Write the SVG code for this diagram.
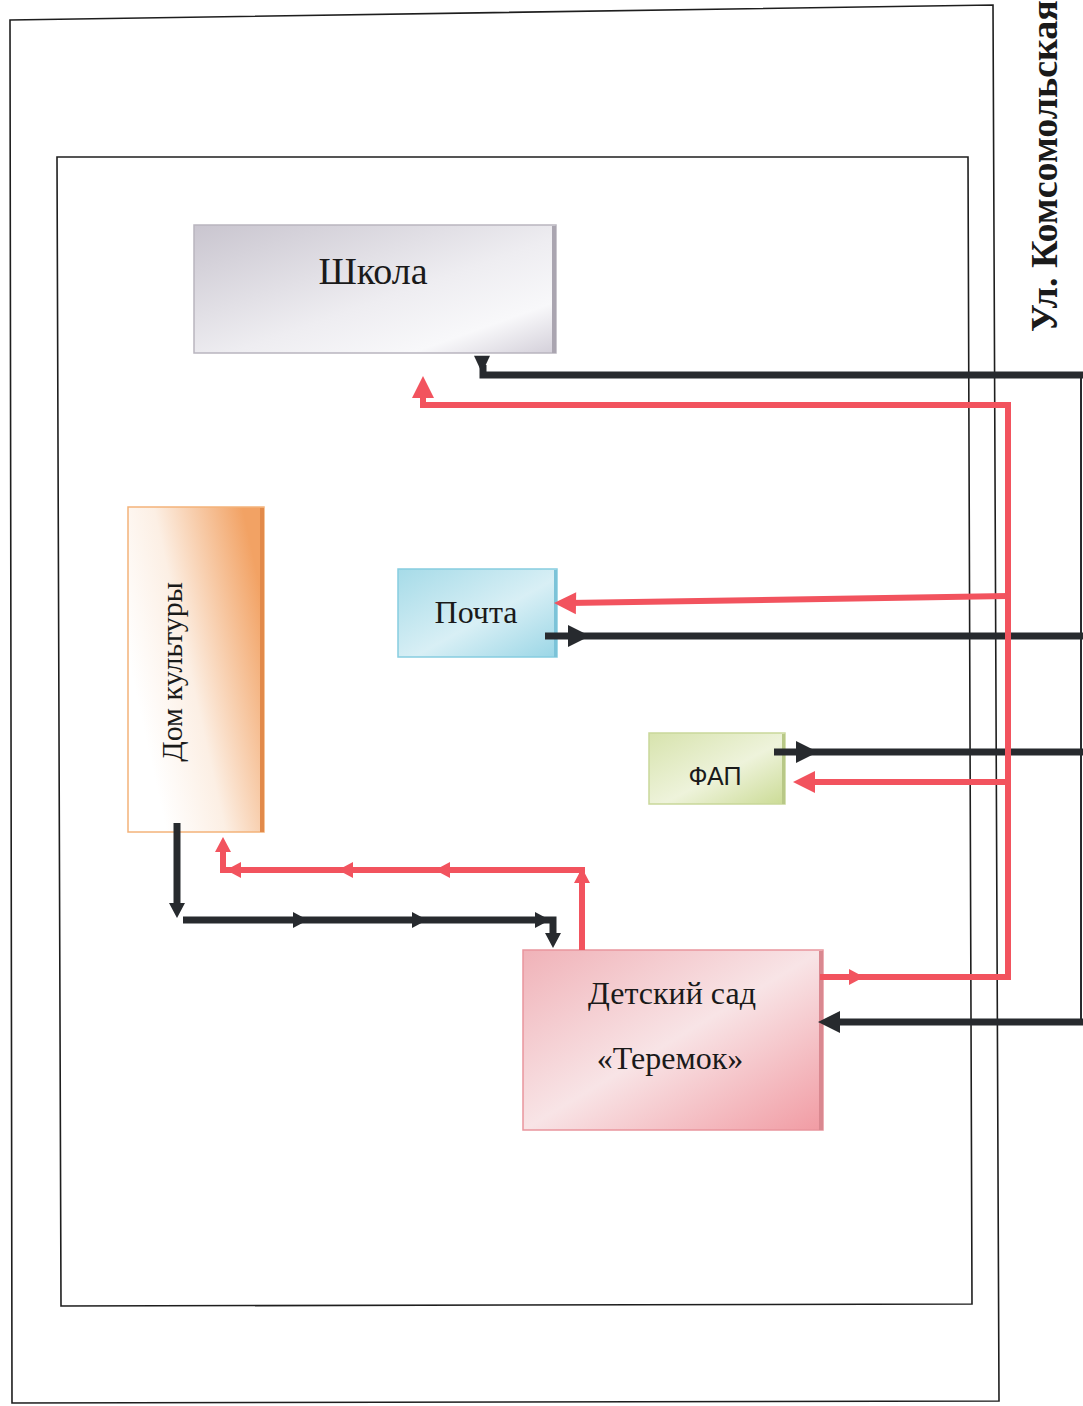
<svg xmlns="http://www.w3.org/2000/svg" xmlns:xlink="http://www.w3.org/1999/xlink" width="1083" height="1406" viewBox="0 0 1083 1406">
<style>
.frame{fill:none;stroke:#1e1e1e;stroke-width:1.6}
.blk{fill:none;stroke:#272a2e;stroke-width:7;stroke-linejoin:miter}
.red{fill:none;stroke:#f2535e;stroke-width:6;stroke-linejoin:miter}
.ahb{fill:#272a2e}
.ahr{fill:#f2535e}
.lbl{font-family:"Liberation Serif","Times New Roman",serif;fill:#1a1a1a}
.lbls{font-family:"Liberation Sans",Arial,sans-serif;fill:#1a1a1a}
</style>
<defs>
<path id="aBig" d="M0,0 L-22,-11 L-22,11 Z"/>
<path id="aSm" d="M0,0 L-15,-8 L-15,8 Z"/>
<linearGradient id="gSchool" x1="0" y1="0" x2="1" y2="1">
<stop offset="0" stop-color="#c9c5cf"/><stop offset="0.55" stop-color="#eeedf1"/><stop offset="0.8" stop-color="#f8f8fa"/><stop offset="1" stop-color="#d3cfd9"/>
</linearGradient>
<linearGradient id="gDom" x1="0.15" y1="0.75" x2="1" y2="0.3">
<stop offset="0" stop-color="#ffffff"/><stop offset="0.4" stop-color="#fcefe4"/><stop offset="1" stop-color="#f2a264"/>
</linearGradient>
<linearGradient id="gPost" x1="0" y1="0" x2="1" y2="1">
<stop offset="0" stop-color="#a6dbe8"/><stop offset="0.55" stop-color="#d8eff5"/><stop offset="1" stop-color="#9ad6e6"/>
</linearGradient>
<linearGradient id="gFap" x1="0" y1="0" x2="1" y2="1">
<stop offset="0" stop-color="#d7e3ad"/><stop offset="0.55" stop-color="#eef3db"/><stop offset="1" stop-color="#cbdb95"/>
</linearGradient>
<linearGradient id="gSad" x1="0" y1="0" x2="1" y2="1">
<stop offset="0" stop-color="#f0b2b8"/><stop offset="0.5" stop-color="#f8e4e6"/><stop offset="1" stop-color="#f19ba3"/>
</linearGradient>
</defs>

<g id="frames">
<polygon class="frame" points="10,20 993,5 999,1401 12,1403"/>
<polygon class="frame" points="57,157 968,157 972,1304 61,1306"/>
</g>

<g id="street">
<text class="lbl" font-weight="bold" font-size="38" transform="translate(1057,332) rotate(-90)">Ул. Комсомольская</text>
</g>

<g id="school">
<rect x="194" y="225" width="362" height="128" fill="url(#gSchool)" stroke="#b9b5bf" stroke-width="1.5"/>
<rect x="552" y="226" width="4" height="127" fill="#aaa5b0"/>
<text class="lbl" font-size="38" x="373" y="284" text-anchor="middle">Школа</text>
</g>

<g id="dom-kultury">
<rect x="128" y="507" width="136" height="325" fill="url(#gDom)" stroke="#f3b37a" stroke-width="1.5"/>
<rect x="260" y="508" width="4" height="324" fill="#e28a4a"/>
<text class="lbl" font-size="30" transform="translate(182,672) rotate(-90)" text-anchor="middle">Дом культуры</text>
</g>

<g id="pochta">
<rect x="398" y="569" width="159" height="88" fill="url(#gPost)" stroke="#86cde0" stroke-width="1.5"/>
<rect x="554" y="570" width="3" height="87" fill="#7cc3d8"/>
<text class="lbl" font-size="32" x="476" y="623" text-anchor="middle">Почта</text>
</g>

<g id="fap">
<rect x="649" y="733" width="136" height="71" fill="url(#gFap)" stroke="#c9d79a" stroke-width="1.5"/>
<rect x="782" y="734" width="3" height="70" fill="#b8c887"/>
<text class="lbls" font-size="25" x="715" y="785" text-anchor="middle">ФАП</text>
</g>

<g id="detsky-sad">
<rect x="523" y="950" width="300" height="180" fill="url(#gSad)" stroke="#e9959d" stroke-width="1.5"/>
<rect x="819" y="951" width="4" height="179" fill="#d98890"/>
<text class="lbl" font-size="32" x="672" y="1004" text-anchor="middle">Детский сад</text>
<text class="lbl" font-size="32" x="670" y="1069" text-anchor="middle">«Теремок»</text>
</g>

<g id="connectors">
<path class="blk" d="M1083,375 H483 V365"/>
<use href="#aSm" class="ahb" transform="translate(482,373) scale(1,1.15) rotate(90)"/>
<line x1="1081" y1="372" x2="1081" y2="1025" stroke="#272a2e" stroke-width="2"/>
<path class="blk" d="M545,636 H1083"/>
<use href="#aBig" class="ahb" transform="translate(590,636)"/>
<path class="blk" d="M774,752 H1083"/>
<use href="#aBig" class="ahb" transform="translate(818,752)"/>
<path class="blk" d="M1083,1022 H830"/>
<use href="#aBig" class="ahb" transform="translate(818,1022) rotate(180)"/>
<path class="blk" d="M177,823 V905"/>
<use href="#aSm" class="ahb" transform="translate(177,918) rotate(90)"/>
<path class="blk" d="M183,920 H553 V936"/>
<use href="#aSm" class="ahb" transform="translate(308,920)"/>
<use href="#aSm" class="ahb" transform="translate(427,920)"/>
<use href="#aSm" class="ahb" transform="translate(550,920)"/>
<use href="#aSm" class="ahb" transform="translate(553,948) rotate(90)"/>
<path class="red" d="M423,396 V405 H1008 V977 H820"/>
<use href="#aBig" class="ahr" transform="translate(423,376) rotate(-90)"/>
<path class="red" d="M1008,596 L568,603"/>
<use href="#aBig" class="ahr" transform="translate(554,603) rotate(180.9)"/>
<path class="red" d="M1008,782 H805"/>
<use href="#aBig" class="ahr" transform="translate(793,782) rotate(180)"/>
<use href="#aSm" class="ahr" transform="translate(864,977)"/>
<path class="red" d="M582,950 V870 H223 V850"/>
<use href="#aSm" class="ahr" transform="translate(582,868) rotate(-90)"/>
<use href="#aSm" class="ahr" transform="translate(435,870) rotate(180)"/>
<use href="#aSm" class="ahr" transform="translate(338,870) rotate(180)"/>
<use href="#aSm" class="ahr" transform="translate(226,870) rotate(180)"/>
<use href="#aSm" class="ahr" transform="translate(223,837) rotate(-90)"/>
</g>
</svg>
